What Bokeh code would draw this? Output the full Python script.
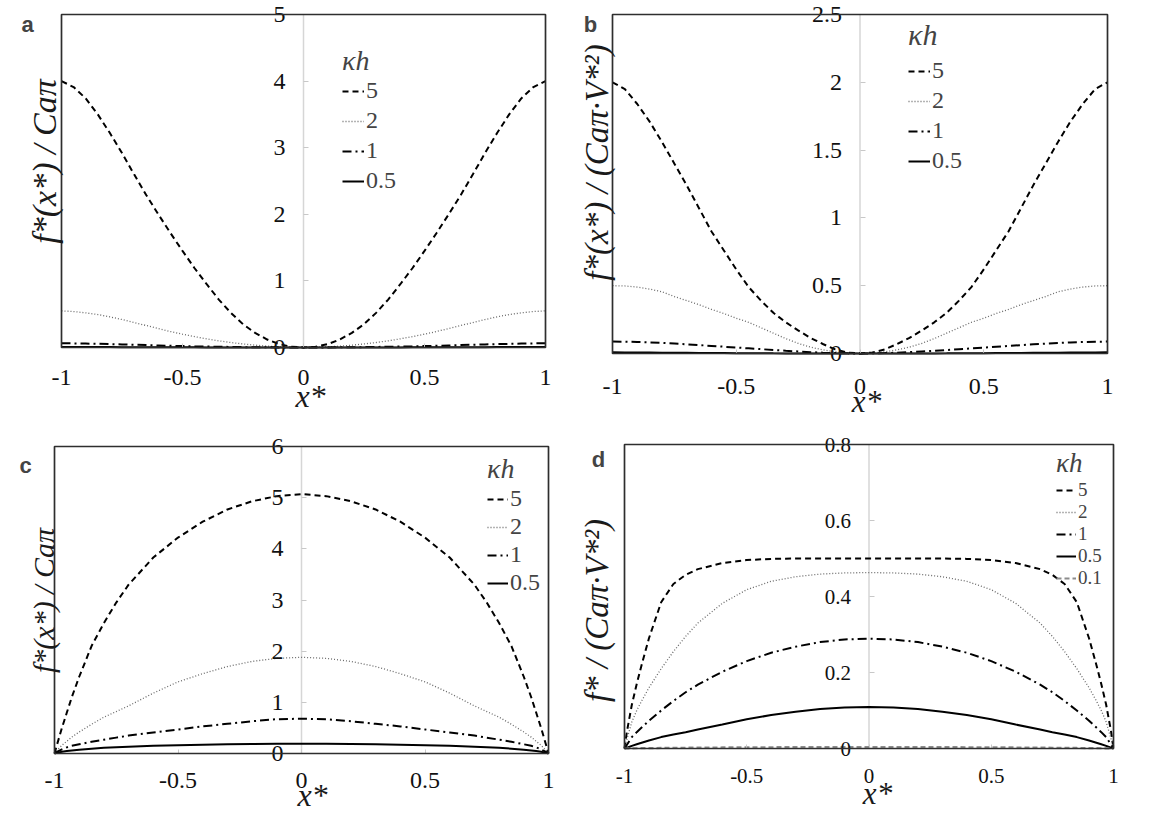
import math
from bokeh.plotting import figure
from bokeh.layouts import column, row
from bokeh.models import Range1d, FixedTicker, Label, BoxAnnotation
from bokeh.embed import file_html
from bokeh.resources import INLINE

# ---------------- data (half curves, x >= 0; curves are symmetric) ----------------
x_half_ab = [0, 0.05, 0.1, 0.15, 0.2, 0.25, 0.3, 0.35, 0.4, 0.45, 0.5,
             0.55, 0.6, 0.65, 0.7, 0.75, 0.8, 0.85, 0.9, 0.95, 1.0]

a_kh5 = [0, 0.012, 0.05, 0.12, 0.22, 0.35, 0.52, 0.72, 0.95, 1.19, 1.45,
         1.72, 2.0, 2.29, 2.6, 2.92, 3.22, 3.5, 3.74, 3.91, 4.0]
a_kh2 = [0, 0.003, 0.01, 0.02, 0.035, 0.053, 0.075, 0.1, 0.13, 0.163, 0.2,
         0.24, 0.285, 0.33, 0.375, 0.42, 0.46, 0.495, 0.52, 0.54, 0.55]
a_kh1 = [0, 0.0004, 0.0012, 0.0024, 0.004, 0.006, 0.0085, 0.011, 0.0145, 0.018, 0.022,
         0.026, 0.031, 0.036, 0.041, 0.046, 0.051, 0.055, 0.059, 0.062, 0.064]
a_kh05 = [0, 0, 0.0001, 0.0003, 0.0005, 0.0007, 0.001, 0.0013, 0.0017, 0.0021, 0.0025,
          0.003, 0.0036, 0.0042, 0.0048, 0.0055, 0.0062, 0.0068, 0.0073, 0.0077, 0.008]

b_kh5 = [0, 0.007, 0.03, 0.07, 0.115, 0.17, 0.23, 0.3, 0.39, 0.49, 0.62,
         0.76, 0.9, 1.07, 1.24, 1.4, 1.56, 1.71, 1.84, 1.95, 2.0]
b_kh2 = [0, 0.003, 0.012, 0.027, 0.047, 0.075, 0.11, 0.15, 0.19, 0.23, 0.26,
         0.295, 0.325, 0.36, 0.39, 0.42, 0.455, 0.475, 0.49, 0.498, 0.5]
b_kh1 = [0, 0.001, 0.003, 0.006, 0.01, 0.015, 0.02, 0.026, 0.032, 0.038, 0.044,
         0.05, 0.056, 0.062, 0.068, 0.073, 0.078, 0.082, 0.085, 0.087, 0.088]
b_kh05 = [0, 0, 0.0001, 0.0002, 0.0004, 0.0006, 0.0009, 0.0012, 0.0016, 0.002, 0.0025,
          0.003, 0.0036, 0.0042, 0.0049, 0.0056, 0.0063, 0.007, 0.0076, 0.0082, 0.0087]

x_half_cd = [0, 0.1, 0.2, 0.3, 0.4, 0.5, 0.6, 0.7, 0.75, 0.8, 0.85, 0.9,
             0.93, 0.95, 0.97, 0.99, 1.0]

c_kh5 = [5.07, 5.03, 4.93, 4.77, 4.53, 4.22, 3.83, 3.3, 2.95, 2.55, 2.1, 1.5,
         1.1, 0.8, 0.5, 0.17, 0]
c_kh2 = [1.88, 1.86, 1.8, 1.7, 1.56, 1.4, 1.18, 0.93, 0.82, 0.71, 0.57, 0.42,
         0.32, 0.24, 0.16, 0.06, 0]
c_kh1 = [0.68, 0.67, 0.63, 0.58, 0.53, 0.47, 0.41, 0.35, 0.31, 0.27, 0.23, 0.18,
         0.15, 0.12, 0.08, 0.03, 0]
c_kh05 = [0.19, 0.19, 0.186, 0.18, 0.172, 0.162, 0.15, 0.132, 0.122, 0.11, 0.095, 0.075,
          0.06, 0.047, 0.033, 0.012, 0]

d_kh5 = [0.5, 0.5, 0.5, 0.5, 0.499, 0.496, 0.488, 0.472, 0.457, 0.433, 0.385, 0.29,
         0.22, 0.17, 0.115, 0.045, 0]
d_kh2 = [0.463, 0.462, 0.459, 0.452, 0.44, 0.418, 0.382, 0.33, 0.295, 0.255, 0.21, 0.16,
         0.125, 0.1, 0.07, 0.025, 0]
d_kh1 = [0.289, 0.287, 0.28, 0.268, 0.252, 0.23, 0.202, 0.168, 0.148, 0.125, 0.1, 0.073,
         0.055, 0.043, 0.03, 0.01, 0]
d_kh05 = [0.109, 0.108, 0.104, 0.097, 0.088, 0.077, 0.063, 0.05, 0.043, 0.037, 0.03, 0.021,
          0.015, 0.011, 0.007, 0.002, 0]
d_kh01 = [0.004, 0.004, 0.004, 0.0036, 0.0033, 0.003, 0.0027, 0.0022, 0.002, 0.0017, 0.0014, 0.001,
          0.0008, 0.0006, 0.0004, 0.0001, 0]

kh_labels_4 = ["5", "2", "1", "0.5"]
kh_labels_5 = ["5", "2", "1", "0.5", "0.1"]

x_ticks = [-1, -0.5, 0, 0.5, 1]
x_tick_labels = ["-1", "-0.5", "0", "0.5", "1"]
y_ticks_a = [0, 1, 2, 3, 4, 5]
y_tick_labels_a = ["0", "1", "2", "3", "4", "5"]
y_ticks_b = [0, 0.5, 1, 1.5, 2, 2.5]
y_tick_labels_b = ["0", "0.5", "1", "1.5", "2", "2.5"]
y_ticks_c = [0, 1, 2, 3, 4, 5, 6]
y_tick_labels_c = ["0", "1", "2", "3", "4", "5", "6"]
y_ticks_d = [0, 0.2, 0.4, 0.6, 0.8]
y_tick_labels_d = ["0", "0.2", "0.4", "0.6", "0.8"]

y_title_a = "f*(x*) / Caπ"
y_title_b = "f*(x*) / (Caπ·V*²)"
y_title_c = "f*(x*) / Caπ"
y_title_d = "f* / (Caπ·V*²)"
x_title = "x*"
legend_title = "κh"

STYLE = {
    "5": dict(line_color="black", line_width=2, line_dash="6 4"),
    "2": dict(line_color="#6a6a6a", line_width=1.3, line_dash="1 2"),
    "1": dict(line_color="black", line_width=2, line_dash="9 4 2 4"),
    "0.5": dict(line_color="black", line_width=2),
    "0.1": dict(line_color="#8c8c8c", line_width=2.2, line_dash="5 3"),
}

SERIF = "Liberation Serif"


def mirror(xh, yh):
    xs = [-v for v in xh[::-1]] + list(xh[1:])
    ys = list(yh[::-1]) + list(yh[1:])
    return xs, ys


def make_panel(x_half, series, kh_list, ymax, yticks, ytick_labels, geom, tick_size, x_standoff,
               leg_pos, leg_spacing, leg_font, leg_title_size, leg_title_standoff, leg_glyph_w,
               letter, letter_pos, ytitle, ytitle_size, ytitle_pos, xtitle_pos, xtitle_size):
    # geom: figure origin on page, figure size, and the plot box on the page
    ox, oy, W, H, bl, bt, br, bb = geom
    L, T, R, B = bl - ox, bt - oy, br - ox, bb - oy
    sxu = (R - L) / 2.0
    syu = (B - T) / ymax
    xr = Range1d(-1 - L / sxu, 1 + (W - R) / sxu)
    yr = Range1d(-(H - B) / syu, ymax + T / syu)

    def scr(px, py):
        return px - ox, H - (py - oy)

    p = figure(frame_width=W, frame_height=H, min_border=0,
               x_range=xr, y_range=yr, output_backend="svg", toolbar_location=None)
    p.title.visible = False
    p.grid.visible = False
    p.outline_line_color = None
    p.background_fill_color = "white"
    p.border_fill_color = "white"

    # centre line at x = 0 (the y axis position)
    p.add_layout(BoxAnnotation(left=0, right=0, bottom=0, top=ymax, fill_alpha=0,
                               line_color="#d6d6d6", line_alpha=1.0, line_width=1.5,
                               level="underlay"))

    xa = p.xaxis[0]
    xa.fixed_location = 0
    xa.ticker = FixedTicker(ticks=x_ticks)
    xa.major_label_overrides = {t: s for t, s in zip(x_ticks, x_tick_labels)}
    xa.axis_line_color = None
    xa.major_tick_in = 4
    xa.major_tick_out = 0
    xa.major_tick_line_color = "#c8c8c8"
    xa.minor_tick_line_color = None
    xa.major_label_text_font = SERIF
    xa.major_label_text_font_size = tick_size
    xa.major_label_text_color = "#111111"
    xa.major_label_standoff = x_standoff

    ya = p.yaxis[0]
    ya.fixed_location = 0
    ya.ticker = FixedTicker(ticks=yticks)
    ya.major_label_overrides = {t: s for t, s in zip(yticks, ytick_labels)}
    ya.axis_line_color = None
    ya.major_tick_in = 5
    ya.major_tick_out = 0
    ya.major_tick_line_color = "#c8c8c8"
    ya.minor_tick_line_color = None
    ya.major_label_text_font = SERIF
    ya.major_label_text_font_size = tick_size
    ya.major_label_text_color = "#111111"
    ya.major_label_standoff = 18

    for kh, yh in zip(kh_list, series):
        xs, ys = mirror(x_half, yh)
        p.line(xs, ys, legend_label=kh, **STYLE[kh])

    # plot box
    p.add_layout(BoxAnnotation(left=-1, right=1, bottom=0, top=ymax, fill_alpha=0,
                               line_color="#2e2e2e", line_alpha=1.0, line_width=1.7))

    leg = p.legend[0]
    leg.title = legend_title
    leg.title_text_font = SERIF
    leg.title_text_font_style = "italic"
    leg.title_text_font_size = leg_title_size
    leg.title_standoff = leg_title_standoff
    leg.label_text_font = SERIF
    leg.label_text_font_size = leg_font
    leg.glyph_width = leg_glyph_w
    leg.glyph_height = 16
    leg.label_standoff = 2
    leg.spacing = leg_spacing
    leg.padding = 0
    leg.margin = 0
    leg.background_fill_alpha = 0
    leg.border_line_alpha = 0
    leg.location = scr(*leg_pos)

    lx, ly = scr(*letter_pos)
    p.add_layout(Label(x=lx, y=ly, x_units="screen", y_units="screen", text=letter,
                       text_font="Liberation Sans", text_font_style="bold", text_font_size="22px",
                       text_align="center", text_baseline="middle"))
    tx, ty = scr(*ytitle_pos)
    p.add_layout(Label(x=tx, y=ty, x_units="screen", y_units="screen", text=ytitle,
                       angle=math.pi / 2, text_font=SERIF, text_font_style="italic",
                       text_font_size=ytitle_size, text_align="center", text_baseline="middle",
                       text_color="#1a1a1a"))
    xx, xy = scr(*xtitle_pos)
    p.add_layout(Label(x=xx, y=xy, x_units="screen", y_units="screen", text=x_title,
                       text_font=SERIF, text_font_style="italic", text_font_size=xtitle_size,
                       text_align="center", text_baseline="alphabetic", text_color="#1a1a1a"))
    return p


# geometry: (fig left, fig top, fig width, fig height, box left, box top, box right, box bottom) on page
geom_a = (0, 0, 575, 420, 61, 14, 545, 347)
geom_b = (575, 0, 570, 420, 612, 14, 1107, 353)
geom_c = (0, 420, 575, 392, 54, 446, 548, 753)
geom_d = (575, 420, 570, 392, 624, 444, 1113, 748)

pa = make_panel(x_half_ab, [a_kh5, a_kh2, a_kh1, a_kh05], kh_labels_4, 5, y_ticks_a, y_tick_labels_a,
                geom_a, "24px", 22,
                (342, 194), 3, "24px", "28px", 0, 22,
                "a", (27, 24), y_title_a, "34px", (44, 161), (310, 395), "32px")
pb = make_panel(x_half_ab, [b_kh5, b_kh2, b_kh1, b_kh05], kh_labels_4, 2.5, y_ticks_b, y_tick_labels_b,
                geom_b, "24px", 25,
                (908, 174), 3, "24px", "30px", 5, 22,
                "b", (590, 24), y_title_b, "33px", (596, 162), (866, 401), "31px")
pc = make_panel(x_half_cd, [c_kh5, c_kh2, c_kh1, c_kh05], kh_labels_4, 6, y_ticks_c, y_tick_labels_c,
                geom_c, "24px", 19,
                (487, 596), 1, "24px", "28px", 0, 21,
                "c", (25, 465), y_title_c, "30px", (43, 600), (312, 794), "32px")
pd = make_panel(x_half_cd, [d_kh5, d_kh2, d_kh1, d_kh05, d_kh01], kh_labels_5, 0.8, y_ticks_d, y_tick_labels_d,
                geom_d, "21px", 20,
                (1056, 589), 0, "19px", "27px", 0, 20,
                "d", (598, 459), y_title_d, "33px", (596, 610), (877, 793), "31px")

layout = column(row(pa, pb), row(pc, pd))
open("out.html", "w").write(file_html(layout, INLINE))
